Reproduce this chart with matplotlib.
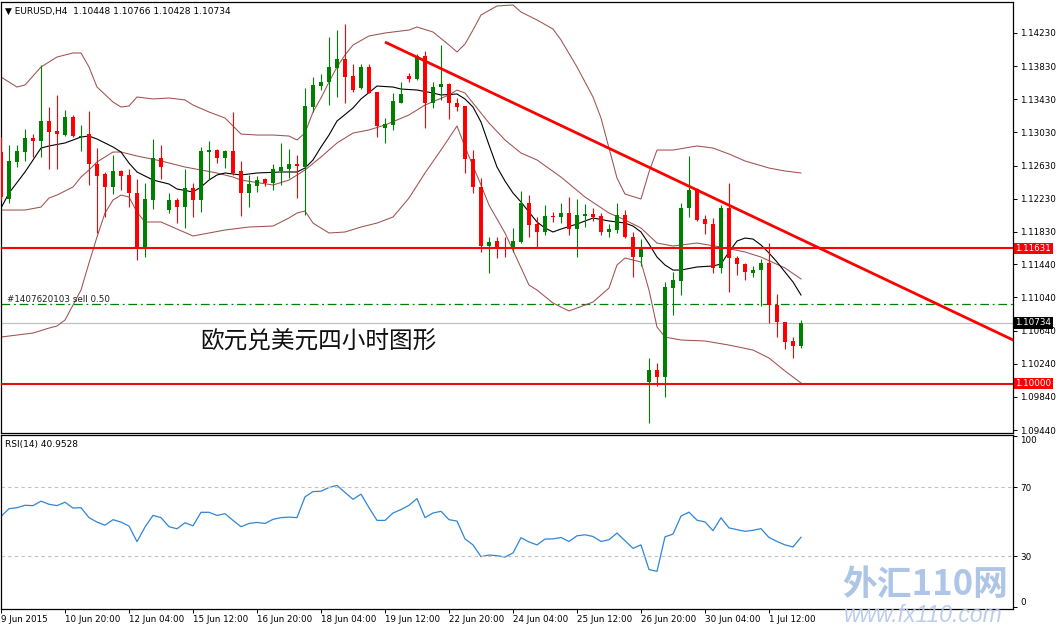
import matplotlib.pyplot as plt
from matplotlib.transforms import blended_transform_factory
import numpy as np

# EURUSD H4 candles (bar 0 = 9 Jun 2015 12:00)
opens = [1.12794, 1.12227, 1.12674, 1.12794, 1.12963, 1.12927, 1.13168, 1.13048, 1.12999, 1.13217,
         1.12975, 1.13011, 1.12649, 1.12529, 1.12372, 1.12565, 1.12517, 1.12299, 1.11648, 1.12215,
         1.12722, 1.12094, 1.12215, 1.12130, 1.12360, 1.12215, 1.12794, 1.12818, 1.12722, 1.12806,
         1.12565, 1.12299, 1.12384, 1.12468, 1.12420, 1.12565, 1.12589, 1.12649, 1.12613, 1.13337,
         1.13590, 1.13639, 1.13808, 1.13916, 1.13711, 1.13566, 1.13820, 1.13518, 1.13084, 1.13120,
         1.13385, 1.13711, 1.13675, 1.13953, 1.13385, 1.13578, 1.13615, 1.13385, 1.13349, 1.12710,
         1.12372, 1.11660, 1.11720, 1.11648, 1.11624, 1.11708, 1.12179, 1.11925, 1.11829, 1.12022,
         1.12010, 1.12058, 1.11865, 1.12022, 1.12046, 1.12022, 1.11829, 1.11853, 1.12034, 1.11769,
         1.11527, 1.10019, 1.10164, 1.10079, 1.11153, 1.11238, 1.12118, 1.12348, 1.11986, 1.11925,
         1.11395, 1.12118, 1.11515, 1.11443, 1.11334, 1.11370, 1.11455, 1.10948, 1.10743, 1.10514,
         1.10448]
highs = [1.12975, 1.12879, 1.12879, 1.13072, 1.13011, 1.13844, 1.13337, 1.13482, 1.13301, 1.13241,
         1.13120, 1.13289, 1.12842, 1.12553, 1.12758, 1.12577, 1.12589, 1.12468, 1.12420, 1.12951,
         1.12879, 1.12299, 1.12239, 1.12589, 1.12420, 1.12855, 1.12927, 1.12830, 1.12818, 1.13277,
         1.12686, 1.12517, 1.12505, 1.12480, 1.12649, 1.12903, 1.12830, 1.12758, 1.13566, 1.13699,
         1.13735, 1.14182, 1.14266, 1.14339, 1.13856, 1.13856, 1.13856, 1.13518, 1.13204, 1.13506,
         1.13639, 1.13747, 1.13977, 1.14013, 1.13639, 1.14085, 1.13627, 1.13446, 1.13349, 1.12818,
         1.12480, 1.11769, 1.11769, 1.11769, 1.11877, 1.12324, 1.12275, 1.12010, 1.12155, 1.12070,
         1.12179, 1.12251, 1.12227, 1.12167, 1.12118, 1.12058, 1.11925, 1.12179, 1.12094, 1.11829,
         1.11744, 1.10309, 1.10248, 1.11226, 1.11346, 1.12179, 1.12746, 1.12360, 1.12034, 1.11998,
         1.12155, 1.12420, 1.11539, 1.11455, 1.11419, 1.11503, 1.11696, 1.11081, 1.10743, 1.10562,
         1.10766]
lows = [1.12215, 1.12179, 1.12613, 1.12686, 1.12734, 1.12734, 1.12589, 1.12589, 1.12987, 1.12975,
        1.12806, 1.12396, 1.11817, 1.12010, 1.12287, 1.12336, 1.12130, 1.11491, 1.11527, 1.12106,
        1.12468, 1.12058, 1.11937, 1.11877, 1.12010, 1.12070, 1.12468, 1.12661, 1.12601, 1.12517,
        1.12022, 1.12130, 1.12312, 1.12384, 1.12336, 1.12396, 1.12480, 1.12239, 1.12034, 1.13277,
        1.13542, 1.13361, 1.13458, 1.13385, 1.13518, 1.13554, 1.13506, 1.12975, 1.12903, 1.13060,
        1.13385, 1.13639, 1.13663, 1.13084, 1.13325, 1.13422, 1.13192, 1.13289, 1.12541, 1.12299,
        1.11588, 1.11334, 1.11515, 1.11527, 1.11588, 1.11696, 1.11769, 1.11648, 1.11793, 1.11950,
        1.11937, 1.11793, 1.11527, 1.11889, 1.11962, 1.11793, 1.11769, 1.11817, 1.11756, 1.11286,
        1.11419, 1.09524, 1.09971, 1.09838, 1.10827, 1.11069, 1.12010, 1.11962, 1.11805, 1.11334,
        1.11334, 1.11105, 1.11310, 1.11250, 1.11286, 1.10936, 1.10731, 1.10562, 1.10417, 1.10309,
        1.10428]
closes = [1.12251, 1.12686, 1.12806, 1.12963, 1.12927, 1.13168, 1.13036, 1.13011, 1.13217, 1.12987,
          1.12987, 1.12649, 1.12505, 1.12372, 1.12565, 1.12505, 1.12299, 1.11648, 1.12227, 1.12722,
          1.12613, 1.12215, 1.12130, 1.12360, 1.12215, 1.12806, 1.12818, 1.12722, 1.12806, 1.12541,
          1.12299, 1.12408, 1.12456, 1.12420, 1.12589, 1.12613, 1.12649, 1.12625, 1.13349, 1.13603,
          1.13639, 1.13820, 1.13916, 1.13699, 1.13542, 1.13820, 1.13506, 1.13108, 1.13132, 1.13409,
          1.13494, 1.13675, 1.13953, 1.13385, 1.13578, 1.13615, 1.13385, 1.13337, 1.12710, 1.12372,
          1.11660, 1.11708, 1.11648, 1.11624, 1.11720, 1.12179, 1.11913, 1.11829, 1.12022, 1.12010,
          1.12058, 1.11865, 1.12034, 1.12046, 1.12010, 1.11829, 1.11865, 1.12034, 1.11769, 1.11527,
          1.11624, 1.10164, 1.10079, 1.11165, 1.11250, 1.12118, 1.12336, 1.11974, 1.11925, 1.11395,
          1.12118, 1.11515, 1.11443, 1.11346, 1.11370, 1.11455, 1.10948, 1.10743, 1.10502, 1.10448,
          1.10734]

# Bollinger upper / middle / lower and the short moving average (read at sample bars)
bb_up_bars = [0, 2, 3, 5, 7, 9, 10, 11, 12, 14, 15, 16, 17, 19, 21, 23, 24, 26, 28, 29, 30, 32, 34,
              36, 37, 38, 39, 40, 41, 42, 43, 44, 46, 48, 51, 52, 54, 56, 57, 58, 59, 60, 62, 64, 65,
              67, 69, 70, 72, 74, 75, 76, 77, 78, 80, 81, 82, 84, 87, 89, 91, 93, 96, 98, 100]
bb_up_vals = [1.13699, 1.13578, 1.13603, 1.13820, 1.13940, 1.13989, 1.13989, 1.13820, 1.13578,
              1.13397, 1.13337, 1.13349, 1.13458, 1.13434, 1.13446, 1.13422, 1.13361, 1.13277,
              1.13204, 1.13108, 1.13011, 1.12999, 1.12999, 1.12987, 1.12939, 1.13023, 1.13277,
              1.13446, 1.13639, 1.13820, 1.13965, 1.14085, 1.14194, 1.14230, 1.14266, 1.14302,
              1.14242, 1.14085, 1.14001, 1.14097, 1.14266, 1.14447, 1.14556, 1.14568, 1.14483,
              1.14387, 1.14278, 1.14146, 1.13820, 1.13458, 1.13204, 1.12842, 1.12480, 1.12287,
              1.12227, 1.12553, 1.12818, 1.12818, 1.12867, 1.12842, 1.12770, 1.12686, 1.12601,
              1.12565, 1.12541]
bb_mid_bars = [0, 3, 5, 6, 7, 9, 10, 11, 12, 14, 15, 17, 20, 23, 27, 29, 30, 34, 36, 38, 40, 42, 44,
               46, 48, 51, 53, 56, 57, 58, 59, 61, 63, 65, 67, 70, 73, 76, 78, 80, 82, 84, 87, 90,
               93, 95, 98, 100]
bb_mid_vals = [1.12094, 1.12094, 1.12130, 1.12239, 1.12275, 1.12372, 1.12492, 1.12577, 1.12674,
               1.12794, 1.12794, 1.12746, 1.12686, 1.12613, 1.12541, 1.12492, 1.12456, 1.12396,
               1.12456, 1.12577, 1.12734, 1.12903, 1.13023, 1.13060, 1.13120, 1.13241, 1.13361,
               1.13482, 1.13542, 1.13506, 1.13385, 1.13144, 1.12939, 1.12782, 1.12698, 1.12492,
               1.12251, 1.12058, 1.11974, 1.11877, 1.11696, 1.11660, 1.11696, 1.11648, 1.11588,
               1.11527, 1.11395, 1.11262]
bb_low_bars = [0, 4, 6, 7, 8, 10, 11, 12, 13, 14, 15, 16, 17, 18, 20, 22, 24, 26, 28, 31, 34, 36, 37,
               38, 39, 41, 43, 45, 47, 49, 51, 53, 55, 57, 58, 60, 61, 63, 66, 67, 69, 71, 73, 74,
               76, 77, 78, 80, 81, 82, 83, 85, 88, 91, 94, 96, 98, 100]
bb_low_vals = [1.10562, 1.10610, 1.10670, 1.10695, 1.10767, 1.11129, 1.11455, 1.11769, 1.12058,
               1.12215, 1.12275, 1.12251, 1.12070, 1.11950, 1.11950, 1.11865, 1.11781, 1.11817,
               1.11853, 1.11889, 1.11901, 1.11998, 1.12058, 1.12082, 1.11937, 1.11817, 1.11829,
               1.11889, 1.11937, 1.12010, 1.12239, 1.12541, 1.12818, 1.13108, 1.12855, 1.12396,
               1.12155, 1.11817, 1.11189, 1.11129, 1.10972, 1.10876, 1.10948, 1.10984, 1.11153,
               1.11431, 1.11515, 1.11467, 1.11129, 1.10683, 1.10562, 1.10526, 1.10514, 1.10465,
               1.10405, 1.10309, 1.10152, 1.10007]
ma_bars = [0, 1, 3, 5, 6, 8, 10, 11, 12, 14, 15, 16, 17, 19, 21, 22, 24, 25, 26, 27, 28, 30, 32, 35,
           37, 38, 39, 40, 41, 42, 44, 45, 47, 49, 50, 52, 54, 55, 57, 58, 59, 60, 61, 62, 63, 64,
           65, 66, 67, 68, 69, 70, 72, 74, 76, 78, 79, 80, 81, 82, 83, 84, 85, 87, 89, 90, 91, 92,
           93, 94, 95, 96, 97, 98, 99, 100]
ma_vals = [1.12118, 1.12299, 1.12553, 1.12842, 1.12867, 1.12903, 1.12975, 1.12987, 1.12951, 1.12855,
           1.12794, 1.12661, 1.12553, 1.12456, 1.12408, 1.12348, 1.12312, 1.12372, 1.12456, 1.12517,
           1.12541, 1.12517, 1.12541, 1.12553, 1.12553, 1.12601, 1.12698, 1.12855, 1.12999, 1.13168,
           1.13325, 1.13434, 1.13590, 1.13578, 1.13554, 1.13542, 1.13506, 1.13482, 1.13494, 1.13434,
           1.13337, 1.13156, 1.12879, 1.12613, 1.12444, 1.12299, 1.12191, 1.12070, 1.11950, 1.11877,
           1.11829, 1.11865, 1.11925, 1.11998, 1.11962, 1.11937, 1.11901, 1.11829, 1.11684, 1.11527,
           1.11431, 1.11370, 1.11370, 1.11407, 1.11419, 1.11443, 1.11588, 1.11720, 1.11756, 1.11744,
           1.11672, 1.11576, 1.11467, 1.11346, 1.11226, 1.11069]

rsi = [53.1, 57.6, 58.2, 59.6, 59.4, 62.0, 60.2, 59.4, 61.4, 58.0,
       58.2, 52.4, 49.8, 48.0, 51.2, 49.8, 47.5, 38.4, 46.9, 53.7,
       52.4, 47.1, 45.9, 49.4, 47.6, 55.5, 55.5, 53.7, 54.7, 50.8,
       47.1, 49.0, 49.6, 49.0, 51.4, 52.4, 52.7, 52.4, 64.5, 67.6,
       67.8, 70.0, 71.2, 67.1, 63.1, 66.1, 58.2, 50.8, 50.8, 55.1,
       57.1, 59.6, 63.5, 52.4, 55.1, 56.1, 51.2, 50.4, 40.0, 36.5,
       29.6, 30.6, 30.2, 29.4, 31.8, 40.7, 38.2, 36.5, 39.9, 40.0,
       40.8, 38.5, 41.8, 42.4, 41.4, 38.5, 39.5, 43.4, 38.9, 34.5,
       36.5, 22.1, 21.1, 41.2, 42.8, 53.3, 55.6, 50.9, 49.9, 44.8,
       52.3, 46.4, 45.4, 44.4, 45.0, 46.0, 40.8, 38.5, 36.5, 35.3, 40.95]

resistance = 1.11631
support = 1.10000
order_price = 1.10958
bid_price = 1.10734
trend_bars = [48, 100]
trend_vals = [1.14121, 1.11740]

price_ticks = [1.14230, 1.13830, 1.13430, 1.13030, 1.12630, 1.12230, 1.11830,
               1.11440, 1.11040, 1.10640, 1.10240, 1.09840, 1.09440]
date_labels = ["9 Jun 2015", "10 Jun 20:00", "12 Jun 04:00", "15 Jun 12:00", "16 Jun 20:00",
               "18 Jun 04:00", "19 Jun 12:00", "22 Jun 20:00", "24 Jun 04:00", "25 Jun 12:00",
               "26 Jun 20:00", "30 Jun 04:00", "1 Jul 12:00"]
rsi_ticks = [0, 30, 70, 100]

plt.rcParams['font.family'] = ['DejaVu Sans', 'Noto Sans CJK SC']

W, H = 1059, 630
fig = plt.figure(figsize=(W / 100, H / 100), dpi=100)
fig.patch.set_facecolor('white')

ax = fig.add_axes([0.5 / W, (H - 433) / H, 1012.5 / W, 431 / H])
ax_rsi = fig.add_axes([0.5 / W, (H - 609) / H, 1012.5 / W, 174 / H])

xlim = (-0.0625, 126.5)
tick_font = 6.3

# candles
x = np.arange(len(opens))
o = np.array(opens)
h = np.array(highs)
l = np.array(lows)
c = np.array(closes)
colors = np.where(c >= o, '#008000', '#ff0000')
ax.vlines(x, l, h, colors=colors, lw=0.8, zorder=3)
ax.bar(x, np.maximum(np.abs(c - o), 0.00012), bottom=np.minimum(o, c), width=0.62,
       color=colors, lw=0, zorder=4)

band_col = '#a05050'
ax.plot(bb_up_bars, bb_up_vals, color=band_col, lw=0.75, zorder=2)
ax.plot(bb_mid_bars, bb_mid_vals, color=band_col, lw=0.75, zorder=2)
ax.plot(bb_low_bars, bb_low_vals, color=band_col, lw=0.75, zorder=2)
ax.plot(ma_bars, ma_vals, color='black', lw=0.8, zorder=2)

# levels and trend line
ax.axhline(resistance, color='#ff0000', lw=1.5, zorder=5)
ax.axhline(support, color='#e01010', lw=1.5, zorder=5)
ax.axhline(bid_price, color='#c0c0c0', lw=0.9, zorder=1)
ax.axhline(order_price, color='#008000', lw=0.9, dashes=(7, 3, 1.5, 3), zorder=1)
slope = (trend_vals[1] - trend_vals[0]) / (trend_bars[1] - trend_bars[0])
t_end = xlim[1] + 2
ax.plot([trend_bars[0], t_end], [trend_vals[0], trend_vals[0] + slope * (t_end - trend_bars[0])],
        color='#ff0000', lw=2.0, zorder=5, solid_capstyle='butt')

ax.set_xlim(*xlim)
ax.set_ylim(1.09404, 1.14604)
ax.set_xticks([])
ax.yaxis.tick_right()
ax.set_yticks(price_ticks)
ax.set_yticklabels(['%.5f' % p for p in price_ticks])
ax.tick_params(axis='y', length=3, width=0.7, pad=2, labelsize=tick_font, direction='out')

tr = blended_transform_factory(ax.transAxes, ax.transData)
for val, bg in [(resistance, '#ff0000'), (support, '#ff0000'), (bid_price, 'black')]:
    ax.text(1.0025, val, '%.5f' % val, transform=tr, fontsize=tick_font, color='white',
            va='center', ha='left', zorder=10, clip_on=False,
            bbox=dict(boxstyle='square,pad=0.15', fc=bg, ec='none'))

ax.text(0.006, order_price, '#1407620103 sell 0.50', transform=tr, fontsize=tick_font,
        color='#202020', va='bottom', ha='left')

fig.text(5 / W, 1 - 11 / H, '\u25bc EURUSD,H4  1.10448 1.10766 1.10428 1.10734',
         fontsize=6.5, va='center', ha='left')
fig.text(200 / W, 1 - 342 / H, '欧元兑美元四小时图形', family='Noto Sans CJK SC',
         fontsize=17, va='center', ha='left', color='#101010')

# RSI panel
ax_rsi.plot(x, rsi, color='#2f86d6', lw=0.9)
for lv in [70, 30]:
    ax_rsi.axhline(lv, color='#c0c0c0', lw=0.8, dashes=(3, 3))
ax_rsi.set_xlim(*xlim)
ax_rsi.set_ylim(-0.9, 100.6)
ax_rsi.yaxis.tick_right()
ax_rsi.set_yticks(rsi_ticks)
ylabs = ax_rsi.set_yticklabels([str(t) for t in rsi_ticks])
ylabs[0].set_va('bottom')
ylabs[-1].set_va('top')
ax_rsi.tick_params(axis='y', length=3, width=0.7, pad=2, labelsize=tick_font, direction='out')

ax_rsi.set_xticks(range(0, 8 * len(date_labels), 8))
xlabs = ax_rsi.set_xticklabels(date_labels)
for lab in xlabs:
    lab.set_ha('left')
ax_rsi.tick_params(axis='x', length=3, width=0.7, pad=1, labelsize=tick_font, direction='out')
fig.text(5 / W, 1 - 445 / H, 'RSI(14) 40.9528', fontsize=6.5, va='center', ha='left')

for a in (ax, ax_rsi):
    for s in a.spines.values():
        s.set_linewidth(0.9)
        s.set_color('black')

# site watermark, kept left of the RSI scale labels
fig.text(842 / W, 1 - 584 / H, '外汇110网', family=['Noto Sans CJK SC', 'DejaVu Sans'],
         fontsize=25, weight='bold', color='#9fbbe3', alpha=0.85, va='center', ha='left')
fig.text(844 / W, 1 - 616 / H, 'www.fx110.com', family='Liberation Sans', fontsize=16.5,
         style='italic', color='#b4c8e8', alpha=0.9, va='center', ha='left')

fig.savefig('out.png', dpi=100, facecolor='white')
